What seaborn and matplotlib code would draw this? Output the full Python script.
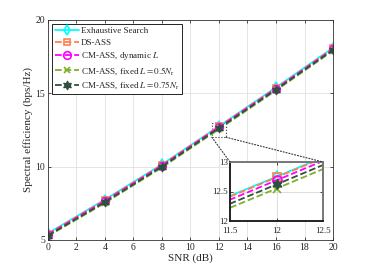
import numpy as np
import pandas as pd
import matplotlib
matplotlib.use("Agg")
import matplotlib.pyplot as plt
import seaborn as sns
from matplotlib.patches import Rectangle, ConnectionPatch

snr = [0, 4, 8, 12, 16, 20]
exhaustive = [5.45, 7.75, 10.15, 12.75, 15.40, 18.10]
ds_ass = [5.42, 7.72, 10.12, 12.74, 15.36, 18.06]
cm_dynamic = [5.36, 7.66, 10.06, 12.69, 15.31, 18.01]
cm_fixed05 = [5.25, 7.52, 9.94, 12.55, 15.19, 17.90]
cm_fixed075 = [5.30, 7.58, 10.00, 12.62, 15.25, 17.95]

labels = ["Exhaustive Search", "DS-ASS", r"CM-ASS, dynamic $L$",
          r"CM-ASS, fixed $L=0.5N_{\mathrm{r}}$",
          r"CM-ASS, fixed $L=0.75N_{\mathrm{r}}$"]
series = [exhaustive, ds_ass, cm_dynamic, cm_fixed05, cm_fixed075]

sns.set_style("ticks")
plt.rcParams["font.family"] = ["Liberation Serif", "DejaVu Serif"]
plt.rcParams["mathtext.fontset"] = "stix"

styles = [
    dict(color="#00FFFF", ls="-", marker="d", mfc="none", ms=5, mew=1.2),
    dict(color="#FF7F50", ls="--", marker="s", mfc="none", ms=5, mew=1.2),
    dict(color="#FF00FF", ls="--", marker="o", mfc="none", ms=5.5, mew=1.2),
    dict(color="#7CB02C", ls="--", marker="x", mfc="none", ms=4.5, mew=1.2),
    dict(color="#2F4F3F", ls="--", marker=(6, 1, 0), mfc="#2F4F3F", ms=6.5, mew=0.8),
]

fig = plt.figure(figsize=(3.68, 2.69), dpi=100)
ax = fig.add_axes([0.130, 0.108, 0.775, 0.818])

for lab, vals, st in zip(labels, series, styles):
    df = pd.DataFrame({"SNR": snr, "SE": vals})
    sns.lineplot(data=df, x="SNR", y="SE", ax=ax, label=lab, color=st["color"],
                 linestyle=st["ls"], marker=st["marker"], markerfacecolor=st["mfc"],
                 markeredgecolor=st["color"], markersize=st["ms"], markeredgewidth=st["mew"],
                 linewidth=1.3)
    ax.lines[-1].set_linestyle(st["ls"])

ax.set_xlim(0, 20)
ax.set_ylim(5, 20)
ax.set_xticks(range(0, 21, 2))
ax.set_yticks([5, 10, 15, 20])
ax.grid(True, color="#e0e0e0", linewidth=0.6)
ax.tick_params(direction="in", labelsize=7, length=2.5, width=0.6, top=True, right=True,
               pad=2, color="#333333")
for s in ax.spines.values():
    s.set_linewidth(0.6)
    s.set_color("#333333")
ax.set_xlabel("SNR (dB)", fontsize=8, labelpad=1)
ax.set_ylabel("Spectral efficiency (bps/Hz)", fontsize=8, labelpad=2)

leg = ax.legend(loc="upper left", fontsize=6.5, frameon=True, fancybox=False,
                edgecolor="black", framealpha=1, handlelength=2.6, borderpad=0.3,
                labelspacing=0.35, handletextpad=0.3, borderaxespad=0.5)
leg.get_frame().set_linewidth(0.6)
for h, st in zip(leg.get_lines(), styles):
    h.set_linestyle(st["ls"])

# zoom rectangle
ax.add_patch(Rectangle((11.5, 12), 1.0, 1.0, fill=False, ls=":", lw=0.8, color="#333333"))

# inset
axin = fig.add_axes([230 / 368, 1 - 221 / 269, 93 / 368, 59 / 269])
for lab, vals, st in zip(labels, series, styles):
    df = pd.DataFrame({"SNR": snr, "SE": vals})
    sns.lineplot(data=df, x="SNR", y="SE", ax=axin, color=st["color"],
                 linestyle=st["ls"], marker=st["marker"], markerfacecolor=st["mfc"],
                 markeredgecolor=st["color"], markersize=st["ms"] + 1, markeredgewidth=st["mew"],
                 linewidth=1.3, legend=False)
    axin.lines[-1].set_linestyle(st["ls"])
axin.set_xlim(11.5, 12.5)
axin.set_ylim(12, 13)
axin.set_xticks([11.5, 12, 12.5])
axin.set_xticklabels(["11.5", "12", "12.5"])
axin.set_yticks([12, 12.5, 13])
axin.set_yticklabels(["12", "12.5", "13"])
axin.set_xlabel("")
axin.set_ylabel("")
axin.grid(True, color="#d8d8d8", linewidth=0.6)
axin.tick_params(direction="in", labelsize=6.5, length=2, width=0.6, top=True, right=True)
axin.tick_params(axis="x", pad=4)
axin.tick_params(axis="y", pad=1.5)
for s in axin.spines.values():
    s.set_linewidth(1.4)
    s.set_color("#222222")
axin.spines["top"].set_color("#777777")
axin.spines["right"].set_color("#777777")

for xa, xb in [((11.5, 12), (0, 1)), ((12.5, 12), (1, 1))]:
    con = ConnectionPatch(xyA=xa, coordsA=ax.transData, xyB=xb, coordsB=axin.transAxes,
                          ls=":", lw=0.8, color="#333333")
    fig.add_artist(con)

fig.savefig("out.png", dpi=100)
